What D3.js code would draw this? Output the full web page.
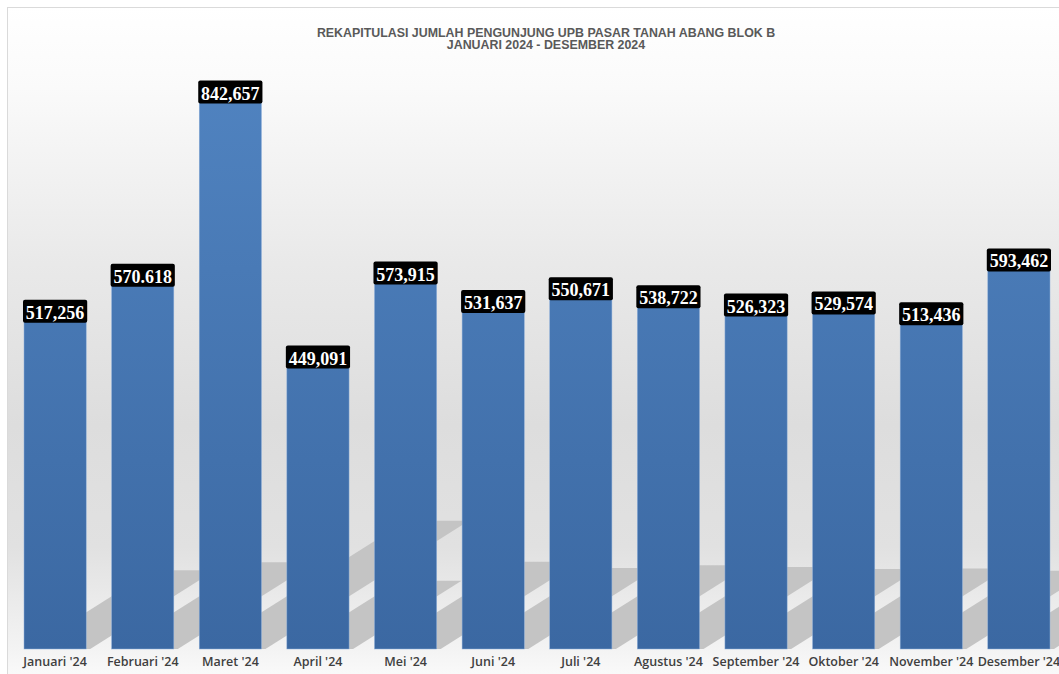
<!DOCTYPE html>
<html>
<head>
<meta charset="utf-8">
<script src="https://cdn.jsdelivr.net/npm/d3@7"></script>
<style>
  html, body { margin: 0; padding: 0; background: #fff; }
  svg { display: block; }
</style>
</head>
<body>
<svg id="chart"></svg>
<script>
// data
const months = ["Januari '24", "Februari '24", "Maret '24", "April '24", "Mei '24", "Juni '24",
  "Juli '24", "Agustus '24", "September '24", "Oktober '24", "November '24", "Desember '24"];
const visitors = [517256, 570618, 842657, 449091, 573915, 531637,
  550671, 538722, 526323, 529574, 513436, 593462];
// labels as printed on the chart (February uses a dot)
const valueLabels = ["517,256", "570.618", "842,657", "449,091", "573,915", "531,637",
  "550,671", "538,722", "526,323", "529,574", "513,436", "593,462"];
const titleLines = ["REKAPITULASI JUMLAH PENGUNJUNG UPB PASAR TANAH ABANG BLOK B",
  "JANUARI 2024 - DESEMBER 2024"];

const width = 1059, height = 674;
const base = 649;

const svg = d3.select("#chart").attr("width", width).attr("height", height);
const defs = svg.append("defs");

// plot background gradient
const bg = defs.append("linearGradient").attr("id", "bg")
  .attr("x1", 0).attr("y1", 0).attr("x2", 0).attr("y2", 1);
[[0, "#ffffff"], [0.12, "#fafafa"], [0.38, "#e9e9e9"], [0.62, "#dddddd"],
 [0.8, "#e1e1e1"], [0.95, "#f3f3f3"], [1, "#fbfbfb"]]
  .forEach(s => bg.append("stop").attr("offset", s[0]).attr("stop-color", s[1]));

const barGrad = defs.append("linearGradient").attr("id", "bar")
  .attr("gradientUnits", "userSpaceOnUse")
  .attr("x1", 0).attr("y1", 80).attr("x2", 0).attr("y2", base);
barGrad.append("stop").attr("offset", 0).attr("stop-color", "#5083c0");
barGrad.append("stop").attr("offset", 1).attr("stop-color", "#3b68a2");

svg.append("rect")
  .attr("x", 7.5).attr("y", 7.5)
  .attr("width", width).attr("height", height)
  .attr("fill", "url(#bg)")
  .attr("stroke", "#dadada");

const x = d3.scaleBand()
  .domain(months)
  .range([24, 1050])
  .paddingInner(0.29)
  .paddingOuter(0);

const y = d3.scaleLinear()
  .domain([0, 900000])
  .range([base, 43]);

const data = months.map((m, i) => ({ month: m, value: visitors[i], label: valueLabels[i] }));

// perspective shadows behind the bars
const slope = 0.63, shrink = 0.226, shift = 4;
svg.append("g")
  .selectAll("polygon")
  .data(data)
  .join("polygon")
  .attr("fill", "#c4c4c4")
  .attr("points", d => {
    const x0 = x(d.month) + shift, x1 = x0 + x.bandwidth();
    const h = (base - y(d.value)) * shrink;
    const dx = h / slope;
    return [[x0, base], [x1, base], [x1 + dx, base - h], [x0 + dx, base - h]].join(" ");
  });

// bars
svg.append("g")
  .selectAll("rect")
  .data(data)
  .join("rect")
  .attr("x", d => x(d.month))
  .attr("y", d => y(d.value))
  .attr("width", x.bandwidth())
  .attr("height", d => base - y(d.value))
  .attr("fill", "url(#bar)")
  .attr("stroke", "#8fb0d9")
  .attr("stroke-width", 0.5);

// value labels
const lab = svg.append("g")
  .selectAll("g")
  .data(data)
  .join("g")
  .attr("transform", d => `translate(${x(d.month) + x.bandwidth() / 2},${y(d.value)})`);

lab.append("rect")
  .attr("x", -x.bandwidth() / 2 - 1)
  .attr("y", -1)
  .attr("width", x.bandwidth() + 2)
  .attr("height", 23)
  .attr("rx", 2)
  .attr("fill", "#000");

lab.append("text")
  .attr("y", 18)
  .attr("text-anchor", "middle")
  .attr("fill", "#fff")
  .attr("font-family", "'Liberation Serif', 'Times New Roman', serif")
  .attr("font-weight", "bold")
  .attr("font-size", 18)
  .text(d => d.label);

// x axis labels
const xAxis = svg.append("g")
  .attr("transform", `translate(0,${base})`)
  .call(d3.axisBottom(x).tickSize(0).tickPadding(8));
xAxis.select(".domain").remove();
xAxis.selectAll("text")
  .attr("fill", "#3f3f3f")
  .attr("font-family", "'Open Sans', sans-serif")
  .attr("font-weight", 600)
  .attr("font-size", 12.5);

// title
svg.append("g")
  .selectAll("text")
  .data(titleLines)
  .join("text")
  .attr("x", 546)
  .attr("y", (d, i) => 37 + i * 12)
  .attr("text-anchor", "middle")
  .attr("fill", "#595959")
  .attr("font-family", "'Liberation Sans', Arial, sans-serif")
  .attr("font-weight", "bold")
  .attr("font-size", 12.4)
  .text(d => d);
</script>
</body>
</html>
